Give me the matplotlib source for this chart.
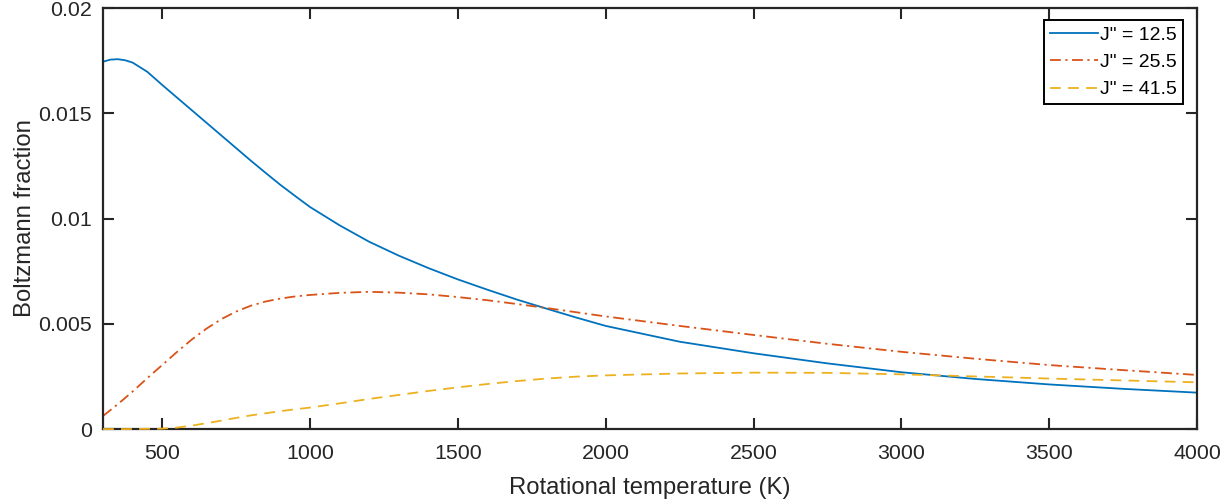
import matplotlib.pyplot as plt

plt.rcParams['font.family'] = ['Liberation Sans', 'DejaVu Sans']

# Rotational temperature (K) sample points
temp = [300, 325, 350, 375, 400, 450, 500, 550, 600, 650, 700, 750, 800, 850, 900, 950,
        1000, 1100, 1200, 1300, 1400, 1500, 1600, 1700, 1800, 1900, 2000,
        2250, 2500, 2750, 3000, 3250, 3500, 3750, 4000]

# Boltzmann fractions for each J'' level
frac_12 = [0.01745, 0.01755, 0.01757, 0.01752, 0.01741, 0.01697, 0.01635, 0.01575,
           0.01515, 0.01455, 0.01395, 0.01335, 0.01275, 0.01217, 0.01160, 0.01107,
           0.01055, 0.00968, 0.00890, 0.00824, 0.00765, 0.00711, 0.00662, 0.00615,
           0.00572, 0.00530, 0.00490, 0.00415, 0.00360, 0.00312, 0.00270, 0.00238,
           0.00212, 0.00191, 0.00173]
frac_25 = [0.00062, 0.00090, 0.00118, 0.00148, 0.00178, 0.00242, 0.00304, 0.00366,
           0.00425, 0.00477, 0.00522, 0.00558, 0.00586, 0.00606, 0.00620, 0.00630,
           0.00637, 0.00647, 0.00652, 0.00648, 0.00640, 0.00627, 0.00612, 0.00594,
           0.00575, 0.00555, 0.00535, 0.00490, 0.00447, 0.00405, 0.00367, 0.00334,
           0.00304, 0.00280, 0.00257]
frac_41 = [0.0, 0.0, 0.0, 0.0, 0.000005, 0.00001, 0.00002, 0.00007,
           0.00016, 0.00028, 0.00040, 0.00053, 0.00065, 0.00075, 0.00085, 0.00094,
           0.00102, 0.00122, 0.00143, 0.00162, 0.00181, 0.00198, 0.00214, 0.00228,
           0.00240, 0.00249, 0.00255, 0.00264, 0.00268, 0.00267, 0.00260, 0.00250,
           0.00240, 0.00231, 0.00222]

labels = ['J" = 12.5', 'J" = 25.5', 'J" = 41.5']

x_ticks = [500, 1000, 1500, 2000, 2500, 3000, 3500, 4000]
y_ticks = [0, 0.005, 0.01, 0.015, 0.02]
y_tick_labels = ['0', '0.005', '0.01', '0.015', '0.02']

axis_col = '#262626'

fig = plt.figure(figsize=(12.29, 5.03), dpi=100)
ax = fig.add_axes([0.0838, 0.147, 0.8902, 0.837])

ax.plot(temp, frac_12, color='#0072BD', lw=1.3, label=labels[0])
ax.plot(temp, frac_25, color='#D95319', lw=1.3, dashes=(6, 2.5, 1.2, 2.5), label=labels[1])
# yellow sits on the x axis at low T, draw it over the spine like matlab does
ax.plot(temp, frac_41, color='#EDB120', lw=1.3, dashes=(6, 4), label=labels[2],
        clip_on=False, zorder=5)

ax.set_xlim(300, 4000)
ax.set_ylim(0, 0.02)
ax.set_xticks(x_ticks)
ax.set_xticklabels([str(t) for t in x_ticks])
ax.set_yticks(y_ticks)
ax.set_yticklabels(y_tick_labels)

for s in ax.spines.values():
    s.set_linewidth(1.6)
    s.set_color(axis_col)
ax.tick_params(direction='in', length=8, width=1.5, top=True, right=True,
               labelsize=15.4, colors=axis_col, labelcolor=axis_col)
ax.tick_params(axis='x', pad=11)
ax.tick_params(axis='y', pad=8)

ax.set_xlabel('Rotational temperature (K)', fontsize=17.2, color=axis_col)
ax.set_ylabel('Boltzmann fraction', fontsize=17.2, color=axis_col)
ax.xaxis.set_label_coords(0.5, -0.140)
ax.xaxis.label.set_va('center')
ax.yaxis.set_label_coords(-0.0715, 0.5)
ax.yaxis.label.set_va('center')

leg = ax.legend(loc='upper right', bbox_to_anchor=(0.987, 0.971), fontsize=14,
                frameon=True, fancybox=False, framealpha=1, edgecolor='black',
                handlelength=2.5, handletextpad=0.1, borderpad=0.3,
                labelspacing=0.5, borderaxespad=0)
leg.get_frame().set_linewidth(1.4)

fig.savefig('out.png', dpi=100)
